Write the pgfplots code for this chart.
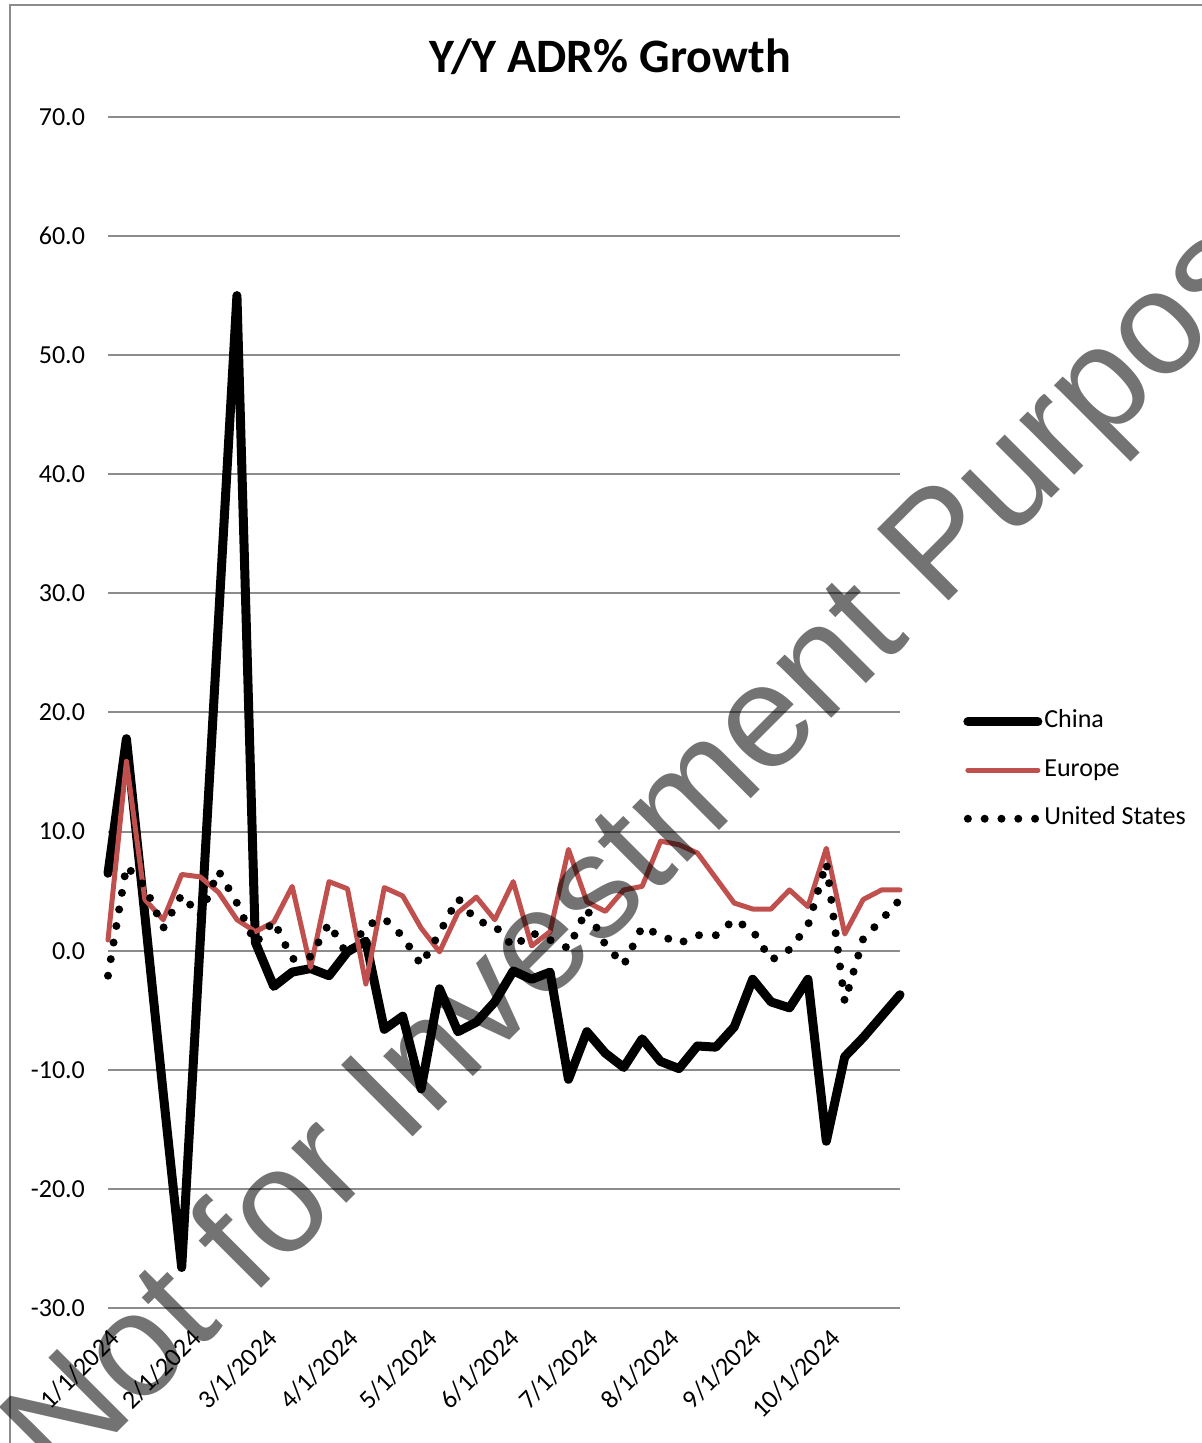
\documentclass[border=0pt]{standalone}
\usepackage{pgfplots}
\usepackage{pgfplotstable}
\pgfplotsset{compat=1.18}
\usepackage{fontspec}
\setmainfont{Carlito}
\newfontfamily\wmfont{Liberation Sans}

\definecolor{eured}{HTML}{C0504D}
\definecolor{gridgray}{HTML}{8C8C8C}

% weekly points, day counted from 1/1/2024
\pgfplotstableread{
day china europe us
0 6.5 0.9 -2.1
7 17.8 15.9 7.1
14 3.0 4.3 5.4
21 -12.0 2.6 1.9
28 -26.6 6.4 4.7
35 0.6 6.2 2.9
42 27.8 4.9 6.7
49 55.0 2.6 4.0
56 0.7 1.6 0.6
63 -3.0 2.4 2.5
70 -1.8 5.4 -0.7
77 -1.5 -1.4 -0.5
84 -2.1 5.8 2.3
91 -0.1 5.2 -0.4
98 0.8 -2.8 2.1
105 -6.6 5.3 2.7
112 -5.5 4.6 1.2
119 -11.6 1.9 -1.2
126 -3.2 -0.1 1.5
133 -6.8 3.2 4.4
140 -6.0 4.5 2.5
147 -4.3 2.6 2.1
154 -1.7 5.8 0.3
161 -2.4 0.4 1.5
168 -1.8 1.6 0.9
175 -10.8 8.5 0.2
182 -6.8 4.1 3.5
189 -8.6 3.3 0.5
196 -9.8 5.1 -1.2
203 -7.4 5.4 2.0
210 -9.3 9.2 1.3
217 -9.9 8.9 0.6
224 -8.0 8.2 1.3
231 -8.1 6.1 1.3
238 -6.4 4.0 2.6
245 -2.4 3.5 1.7
252 -4.3 3.5 -0.8
259 -4.8 5.1 0.1
266 -2.4 3.7 2.1
273 -16.0 8.6 7.4
280 -8.9 1.4 -4.3
287 -7.3 4.3 1.0
294 -5.5 5.1 2.6
301 -3.7 5.1 4.3
}\adrdata

\begin{document}
\begin{tikzpicture}
\useasboundingbox (0,0) rectangle (601pt,721.5pt);
\draw[gridgray, line width=1pt] (5pt,-2pt) -- (5pt,719pt) -- (603pt,719pt);
\node[font=\fontsize{24}{28}\selectfont\bfseries] at (305pt,693pt) {Y/Y ADR\% Growth};

\begin{axis}[
    at={(54pt,67.5pt)}, anchor=south west,
    scale only axis,
    width=396pt, height=595.5pt,
    xmin=0, xmax=301,
    ymin=-30, ymax=70,
    ytick={-30,-20,...,70},
    xtick={0,31,60,91,121,152,182,213,244,274},
    xticklabels={1/1/2024,2/1/2024,3/1/2024,4/1/2024,5/1/2024,6/1/2024,7/1/2024,8/1/2024,9/1/2024,10/1/2024},
    axis lines=left,
    axis line style={draw=none},
    major tick length=0pt,
    ymajorgrids,
    grid style={gridgray, line width=1pt},
    tick label style={font=\fontsize{13}{15}\selectfont},
    yticklabel style={xshift=-8pt},
    yticklabel style={/pgf/number format/fixed, /pgf/number format/fixed zerofill,
        /pgf/number format/precision=1, /pgf/number format/assume math mode=true},
    xticklabel style={rotate=45, anchor=north east, inner sep=1pt},
    xticklabel shift=8pt,
    clip=false,
    legend style={at={(1.0795,0.4515)}, anchor=west, draw=none, fill=none, inner sep=0pt,
        row sep=12.25pt, column sep=1pt,
        font=\fontsize{13}{15}\selectfont,
        nodes={inner sep=0pt, text height=9pt, text depth=3pt}},
    legend cell align=left,
    legend image code/.code={\draw[#1] (0pt,0pt) -- (35pt,0pt);},
  ]
  \addplot[black, line width=4.5pt, line join=round, line cap=round] table[x=day, y=china] {\adrdata};
  \addlegendentry{China}
  \addplot[eured, line width=2.5pt, line join=round, line cap=round] table[x=day, y=europe] {\adrdata};
  \addlegendentry{Europe}
  \addplot[black, line width=4pt, line cap=round, dash pattern=on 0pt off 8.4pt] table[x=day, y=us] {\adrdata};
  \addlegendentry{United States}
\end{axis}

\begin{scope}
  \clip (0,0) rectangle (601pt,721.5pt);
  \node[rotate=45, anchor=base west, inner sep=0pt, text=black, text opacity=0.55,
        font=\wmfont\fontsize{73.5}{80}\selectfont] at (31pt,-22.5pt) {Not for Investment Purposes};
\end{scope}
\end{tikzpicture}
\end{document}
